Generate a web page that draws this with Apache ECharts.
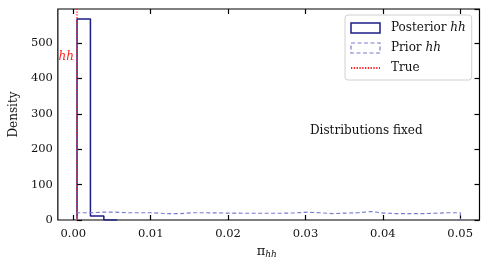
<!DOCTYPE html>
<html><head><meta charset="utf-8">
<script src="https://cdn.jsdelivr.net/npm/echarts@6/dist/echarts.min.js"></script>
<style>html,body{margin:0;padding:0;background:#fff}#c{width:489px;height:266px}</style>
</head><body><div id="c"></div>
<script>
// ---- data ----
const posteriorEdges = [0, 0.00175, 0.0035, 0.00525];
const posteriorDensity = [568, 11, 0];
const priorRange = [0, 0.05];
const priorDensity = [20.5, 22, 22, 20.5, 20.5, 20.5, 18, 18, 20.5, 20.5,
                      20, 19.5, 19, 19, 19, 19, 20, 22, 20.5, 18,
                      19.5, 20.5, 24, 19.5, 18, 18, 18, 19, 20.5, 20.5];
const trueValue = 0;
const trueLabelY = 460;
const xTicks = [0, 0.01, 0.02, 0.03, 0.04, 0.05];
const yTicks = [0, 100, 200, 300, 400, 500];
const xLimits = [-0.0025, 0.0525];
const yLimits = [0, 596];
const seriesNames = ['Posterior hh', 'Prior hh', 'True'];
const annotation = 'Distributions fixed';

// ---- helpers ----
function stepOutline(edges, vals) {
  const pts = [[edges[0], 0]];
  for (let i = 0; i < vals.length; i++) {
    pts.push([edges[i], vals[i]]);
    pts.push([edges[i + 1], vals[i]]);
  }
  pts.push([edges[edges.length - 1], 0]);
  return pts;
}
const priorEdges = priorDensity.map((_, i) => priorRange[0] + (priorRange[1] - priorRange[0]) * i / priorDensity.length).concat([priorRange[1]]);

// ---- layout ----
const frame = { left: 54, right: 479.5, top: 9, bottom: 220 };
const fw = frame.right - frame.left;
const xAt = v => frame.left + fw * (v - xLimits[0]) / (xLimits[1] - xLimits[0]);
const tickLeft = xAt(xTicks[0]);
const tickRight = xAt(xTicks[xTicks.length - 1]);

const FONT = 'DejaVu Serif';
const NAVY = '#1c1c86';
const PRIOR = '#7b7bd0';
const RED = '#ff2020';

const tickStyle = { show: true, inside: true, length: 5, lineStyle: { color: '#000', width: 1.2 } };

const chart = echarts.init(document.getElementById('c'), null, { renderer: 'canvas' });
chart.setOption({
  animation: false,
  backgroundColor: '#fff',
  grid: [
    { left: frame.left, top: frame.top, width: fw, height: frame.bottom - frame.top,
      show: true, borderColor: '#000', borderWidth: 1.2, backgroundColor: 'transparent' },
    { left: tickLeft, top: frame.top, width: tickRight - tickLeft, height: frame.bottom - frame.top, show: false }
  ],
  xAxis: [
    { gridIndex: 0, type: 'value', min: xLimits[0], max: xLimits[1],
      axisLine: { show: false }, axisTick: { show: false }, axisLabel: { show: false }, splitLine: { show: false } },
    { gridIndex: 1, type: 'value', position: 'bottom', min: xTicks[0], max: xTicks[xTicks.length - 1],
      interval: xTicks[1] - xTicks[0],
      axisLine: { show: false }, axisTick: tickStyle, splitLine: { show: false },
      axisLabel: { margin: 8, color: '#111', fontFamily: FONT, fontSize: 11.5,
                   formatter: v => v.toFixed(2) },
      name: '{p|π}{s|hh}', nameLocation: 'middle', nameGap: 23,
      nameTextStyle: { rich: {
        p: { fontFamily: FONT, fontSize: 13, color: '#111' },
        s: { fontFamily: FONT, fontStyle: 'italic', fontSize: 9, color: '#111', verticalAlign: 'bottom', padding: [6, 0, 0, 0] } } } },
    { gridIndex: 1, type: 'value', position: 'top', min: xTicks[0], max: xTicks[xTicks.length - 1],
      interval: xTicks[1] - xTicks[0],
      axisLine: { show: false }, axisTick: tickStyle, axisLabel: { show: false }, splitLine: { show: false } }
  ],
  yAxis: [
    { gridIndex: 0, type: 'value', position: 'left', min: yLimits[0], max: yLimits[1],
      interval: yTicks[1] - yTicks[0],
      axisLine: { show: false }, axisTick: tickStyle, splitLine: { show: false },
      axisLabel: { margin: 5, color: '#111', fontFamily: FONT, fontSize: 11.5, showMaxLabel: false,
                   formatter: v => (yTicks.indexOf(v) >= 0 ? String(v) : '') },
      name: 'Density', nameLocation: 'middle', nameGap: 34,
      nameTextStyle: { fontFamily: FONT, fontSize: 12, color: '#111' } },
    { gridIndex: 0, type: 'value', position: 'right', min: yLimits[0], max: yLimits[1],
      interval: yTicks[1] - yTicks[0],
      axisLine: { show: false }, axisTick: tickStyle, axisLabel: { show: false }, splitLine: { show: false } },
    { gridIndex: 1, type: 'value', min: yLimits[0], max: yLimits[1], show: false }
  ],
  legend: {
    orient: 'vertical', left: 345, top: 15,
    padding: [7, 6, 6, 5], itemGap: 8, itemWidth: 29, itemHeight: 10,
    backgroundColor: 'rgba(255,255,255,0.85)', borderColor: '#d0d0d0', borderWidth: 1, borderRadius: 3,
    textStyle: { fontFamily: FONT, fontSize: 12, color: '#111', padding: [0, 0, 0, 6],
      rich: { n: { fontFamily: FONT, fontSize: 12, color: '#111' },
              i: { fontFamily: FONT, fontSize: 12, fontStyle: 'italic', color: '#111' } } },
    formatter: name => {
      const m = name.match(/^(.*) (hh)$/);
      return m ? '{n|' + m[1] + ' }{i|' + m[2] + '}' : '{n|' + name + '}';
    },
    data: [
      { name: seriesNames[0], icon: 'rect', itemStyle: { color: 'rgba(0,0,0,0)', borderColor: NAVY, borderWidth: 1.5 } },
      { name: seriesNames[1], icon: 'rect', itemStyle: { color: 'rgba(0,0,0,0)', borderColor: PRIOR, borderWidth: 1.2, borderType: [4, 2.5] } },
      { name: seriesNames[2], itemStyle: { color: 'rgba(0,0,0,0)', borderColor: 'rgba(0,0,0,0)', borderWidth: 0 } }
    ]
  },
  graphic: [
    { type: 'text', left: 310, top: 125, style: { text: annotation, fontFamily: FONT, fontSize: 12, fill: '#111' } }
  ],
  series: [
    { name: seriesNames[0], type: 'line', xAxisIndex: 0, yAxisIndex: 0, symbol: 'none', z: 2,
      data: stepOutline(posteriorEdges, posteriorDensity),
      lineStyle: { color: NAVY, width: 1.5 }, itemStyle: { color: NAVY } },
    { name: seriesNames[1], type: 'line', xAxisIndex: 0, yAxisIndex: 0, symbol: 'none', z: 3,
      data: stepOutline(priorEdges, priorDensity),
      lineStyle: { color: PRIOR, width: 1.2, type: [4, 2.5] }, itemStyle: { color: PRIOR } },
    { name: seriesNames[2], type: 'line', xAxisIndex: 0, yAxisIndex: 0, symbol: 'none', z: 6,
      data: [[trueValue, yLimits[0]], [trueValue, yLimits[1]]],
      lineStyle: { color: RED, width: 1.3, type: [1.3, 1.5] }, itemStyle: { color: RED },
      markPoint: { silent: true, animation: false,
        data: [{ coord: [trueValue, trueLabelY], symbol: 'circle', symbolSize: 0,
          label: { show: true, position: 'left', distance: 3, formatter: 'hh',
                   fontFamily: FONT, fontStyle: 'italic', fontSize: 12, color: RED } }] } }
  ]
});
</script></body></html>
